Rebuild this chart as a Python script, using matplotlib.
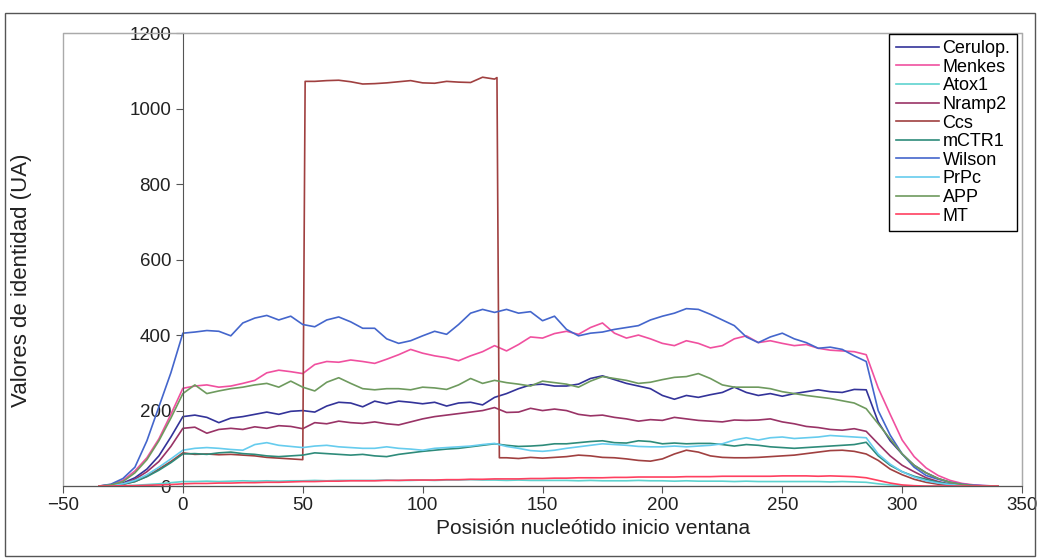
import matplotlib
matplotlib.use('Agg')
import matplotlib.pyplot as plt
from matplotlib.patches import Rectangle

plt.rcParams['font.family'] = ['Liberation Sans', 'DejaVu Sans']

# window start position (shared by all series except Ccs)
pos = list(range(-35, 345, 5))

cerulop = [0, 2, 8, 22, 45, 80, 130, 184,
           188, 182, 168, 180, 184, 190, 196, 190, 198, 200, 196, 212, 222, 220, 210,
           225, 218, 225, 222, 218, 222, 212, 220, 222, 215, 235, 245, 258, 268, 270, 265,
           265, 270, 285, 292, 282, 272, 265, 258, 240, 230, 240, 235, 242, 248, 262, 248,
           240, 245, 238, 245, 250, 255, 250, 248, 256, 255,
           170, 120, 85, 55, 35, 20, 10, 5, 2, 0, 0]
menkes = [0, 4, 15, 40, 75, 125, 190, 259,
          265, 268, 262, 265, 272, 280, 300, 307, 303, 298, 322, 330, 328, 334, 330,
          325, 336, 348, 362, 352, 345, 340, 332, 345, 356, 372, 358, 375, 395, 392, 404,
          410, 402, 420, 432, 405, 392, 400, 390, 378, 372, 385, 378, 366, 372, 390, 398,
          380, 385, 378, 372, 375, 365, 360, 358, 356, 348,
          260, 190, 122, 78, 48, 28, 15, 7, 3, 1, 0]
atox1 = [0, 0, 1, 2, 4, 6, 9, 12,
         12, 13, 12, 13, 14, 13, 14, 13, 14, 14, 15, 14, 15, 15, 15,
         15, 16, 15, 15, 16, 15, 16, 16, 17, 16, 16, 15, 16, 15, 15, 15,
         15, 14, 15, 14, 14, 14, 15, 14, 14, 13, 14, 13, 13, 13, 12, 13,
         12, 12, 12, 12, 12, 12, 11, 12, 11, 10,
         6, 3, 1, 0, 0, 0, 0, 0, 0, 0, 0]
nramp2 = [0, 2, 6, 18, 38, 65, 105, 153,
          156, 140, 150, 153, 150, 157, 153, 160, 158, 152, 168, 165, 172, 168, 166,
          170, 165, 162, 170, 178, 184, 188, 192, 196, 200, 208, 195, 196, 206, 200, 204,
          200, 190, 186, 188, 182, 178, 172, 176, 174, 182, 178, 174, 172, 170, 175, 174,
          175, 178, 170, 165, 158, 155, 150, 148, 152, 145,
          112, 80, 55, 38, 22, 12, 5, 2, 0, 0, 0]
mctr1 = [0, 1, 5, 12, 25, 42, 62, 85,
         86, 84, 88, 90, 86, 84, 80, 78, 80, 82, 88, 86, 84, 82, 84,
         80, 78, 84, 88, 92, 95, 98, 100, 104, 108, 112, 108, 105, 106, 108, 112,
         112, 115, 118, 120, 115, 114, 120, 118, 112, 114, 112, 113, 113, 110, 106, 110,
         108, 104, 102, 100, 102, 104, 106, 108, 110, 116,
         80, 55, 38, 26, 18, 10, 5, 2, 0, 0, 0]
wilson = [0, 5, 20, 50, 120, 210, 300, 405,
          408, 412, 410, 398, 432, 445, 452, 440, 450, 428, 422, 440, 448, 435, 418,
          418, 390, 378, 385, 398, 410, 402, 428, 458, 468, 460, 468, 458, 462, 438, 450,
          415, 398, 405, 408, 415, 420, 425, 440, 450, 458, 470, 468, 455, 440, 425, 395,
          380, 395, 405, 390, 380, 365, 368, 362, 345, 330,
          200, 135, 85, 50, 28, 18, 10, 5, 2, 1, 0]
prpc = [0, 2, 6, 15, 30, 50, 72, 95,
        100, 102, 100, 97, 95, 110, 115, 108, 105, 102, 106, 108, 104, 102, 100,
        100, 104, 100, 98, 95, 100, 102, 104, 106, 110, 113, 105, 100, 94, 92, 95,
        100, 104, 108, 112, 110, 108, 105, 104, 104, 106, 104, 106, 108, 112, 122, 128,
        122, 128, 130, 126, 128, 130, 134, 132, 130, 128,
        85, 58, 38, 24, 14, 8, 4, 2, 0, 0, 0]
app = [0, 3, 12, 35, 70, 120, 180, 245,
       268, 245, 252, 258, 262, 268, 272, 262, 278, 262, 252, 275, 287, 272, 258,
       255, 258, 258, 255, 262, 260, 256, 268, 285, 272, 280, 274, 270, 265, 278, 274,
       270, 262, 278, 290, 285, 280, 272, 275, 282, 288, 290, 298, 285, 268, 262, 262,
       262, 258, 250, 245, 240, 236, 232, 226, 220, 205,
       165, 125, 85, 55, 35, 20, 10, 4, 1, 0, 0]
mt = [0, 0, 1, 1, 2, 3, 4, 6,
      7, 7, 8, 8, 9, 9, 10, 10, 11, 12, 12, 13, 13, 14, 14,
      14, 15, 15, 16, 16, 16, 17, 17, 18, 18, 19, 19, 19, 20, 20, 21,
      21, 22, 22, 22, 23, 23, 24, 24, 24, 24, 25, 25, 25, 26, 26, 26,
      26, 26, 27, 27, 27, 26, 27, 26, 25, 22,
      15, 8, 3, 1, 0, 0, 0, 0, 0, 0, 0]

# Ccs has sharp steps at 51 and 132, so it gets its own positions
ccs_pos = (list(range(-35, 55, 5)) + [51] + list(range(55, 135, 5)) + [131, 132]
           + list(range(135, 345, 5)))
ccs = [0, 1, 5, 12, 26, 45, 65, 88,
       84, 85, 83, 84, 82, 80, 76, 74, 72, 70,
       1072,
       1072, 1074, 1075, 1071, 1065, 1066, 1068, 1071, 1074, 1068, 1067, 1072, 1070, 1069, 1083, 1078,
       1082, 75,
       75, 73, 76, 74, 76,
       78, 82, 80, 76, 75, 72, 68, 66, 72, 85, 95, 90, 80, 76, 75, 75,
       76, 78, 80, 82, 86, 90, 94, 95, 92, 85,
       68, 45, 30, 18, 10, 5, 2, 0, 0, 0, 0]

names = ['Cerulop.', 'Menkes', 'Atox1', 'Nramp2', 'Ccs', 'mCTR1', 'Wilson', 'PrPc', 'APP', 'MT']
colors = ['#333399', '#F0509F', '#5FD3D0', '#993366', '#A04040',
          '#2E8B7A', '#4466CC', '#66CCEE', '#6E9A5E', '#FF4060']

fig = plt.figure(figsize=(10.41, 5.6), dpi=100)
ax = fig.add_axes([0.0605, 0.132, 0.9213, 0.809])

series = [cerulop, menkes, atox1, nramp2, None, mctr1, wilson, prpc, app, mt]
for name, col, ys in zip(names, colors, series):
    if ys is None:
        ax.plot(ccs_pos, ccs, color=col, lw=1.2, label=name)
    else:
        ax.plot(pos, ys, color=col, lw=1.2, label=name)

ax.set_xlim(-50, 350)
ax.set_ylim(0, 1200)
ax.set_xticks(range(-50, 351, 50))
ax.set_yticks(range(0, 1201, 200))

ax.spines['left'].set_position(('data', 0))
ax.spines['left'].set_color('#555555')
ax.spines['bottom'].set_color('#555555')
ax.spines['top'].set_color('#aaaaaa')
ax.spines['right'].set_color('#aaaaaa')
ax.add_patch(Rectangle((0, 0), 1, 1, transform=ax.transAxes, fill=False,
                       edgecolor='#aaaaaa', lw=1, clip_on=False, zorder=0))
ax.tick_params(axis='both', direction='out', length=5, color='#555555',
               labelsize=13.5, labelcolor='#222222')
ax.tick_params(axis='x', pad=3)

fig.text(0.570, 0.057, 'Posisión nucleótido inicio ventana', fontsize=15,
         color='#222222', ha='center', va='center')
fig.text(0.021, 0.50, 'Valores de identidad (UA)', rotation=90, fontsize=16,
         color='#222222', ha='center', va='center')

leg = ax.legend(loc='upper right', bbox_to_anchor=(0.9945, 0.9985), fontsize=13,
                frameon=True, fancybox=False, edgecolor='black', framealpha=1,
                handlelength=2.4, labelspacing=0.09, borderpad=0.35, handletextpad=0.2,
                borderaxespad=0)
leg.get_frame().set_linewidth(1)

fig.patches.append(Rectangle((0.005, 0.007), 0.989, 0.97, transform=fig.transFigure,
                             fill=False, edgecolor='#555555', lw=1))

fig.savefig('out.png', dpi=100)
